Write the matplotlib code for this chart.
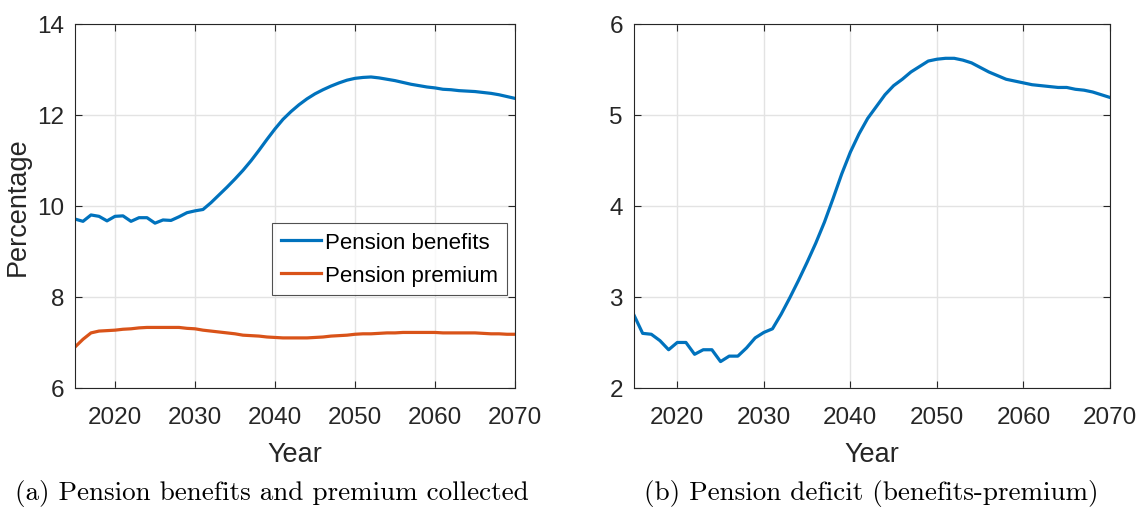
import matplotlib
matplotlib.use('Agg')
import matplotlib.pyplot as plt

# Years 2015..2070 (annual)
years = list(range(2015, 2071))

# Pension benefits, %
benefits = [9.71, 9.66, 9.80, 9.77, 9.67, 9.77, 9.78, 9.66, 9.74, 9.74,
            9.62, 9.69, 9.68, 9.76, 9.85, 9.89, 9.92, 10.07, 10.24, 10.41,
            10.59, 10.78, 10.99, 11.22, 11.46, 11.69, 11.90, 12.07, 12.22, 12.35,
            12.46, 12.55, 12.63, 12.70, 12.76, 12.80, 12.82, 12.83, 12.81, 12.78,
            12.75, 12.71, 12.67, 12.64, 12.61, 12.59, 12.56, 12.55, 12.53, 12.52,
            12.51, 12.49, 12.47, 12.44, 12.40, 12.36]

# Pension premium, %
premium = [6.90, 7.07, 7.21, 7.25, 7.26, 7.27, 7.29, 7.30, 7.32, 7.33,
           7.33, 7.33, 7.33, 7.33, 7.31, 7.30, 7.27, 7.25, 7.23, 7.21,
           7.19, 7.16, 7.15, 7.14, 7.12, 7.11, 7.10, 7.10, 7.10, 7.10,
           7.11, 7.12, 7.14, 7.15, 7.16, 7.18, 7.19, 7.19, 7.20, 7.21,
           7.21, 7.22, 7.22, 7.22, 7.22, 7.22, 7.21, 7.21, 7.21, 7.21,
           7.21, 7.20, 7.19, 7.19, 7.18, 7.18]

# Pension deficit, %
deficit = [2.80, 2.60, 2.59, 2.52, 2.42, 2.50, 2.50, 2.37, 2.42, 2.42,
           2.29, 2.35, 2.35, 2.44, 2.55, 2.61, 2.65, 2.81, 2.99, 3.18,
           3.38, 3.59, 3.82, 4.08, 4.35, 4.59, 4.79, 4.96, 5.09, 5.22,
           5.32, 5.39, 5.47, 5.53, 5.59, 5.61, 5.62, 5.62, 5.60, 5.57,
           5.52, 5.47, 5.43, 5.39, 5.37, 5.35, 5.33, 5.32, 5.31, 5.30,
           5.30, 5.28, 5.27, 5.25, 5.22, 5.19]

x_ticks = [2020, 2030, 2040, 2050, 2060, 2070]
left_yticks = [6, 8, 10, 12, 14]
right_yticks = [2, 3, 4, 5, 6]

blue = '#0072BD'
orange = '#D95319'

plt.rcParams['font.family'] = ['Liberation Sans', 'DejaVu Sans']

fig = plt.figure(figsize=(11.42, 5.10), dpi=100)
ax1 = fig.add_axes([75 / 1142, 121 / 510, 440 / 1142, 364.3 / 510])
ax2 = fig.add_axes([634 / 1142, 121 / 510, 476 / 1142, 364.3 / 510])


def style(ax, yticks):
    ax.set_xlim(2015, 2070)
    ax.set_ylim(yticks[0], yticks[-1])
    ax.set_xticks(x_ticks)
    ax.set_yticks(yticks)
    ax.grid(True, color='#e3e3e3', linewidth=1.0)
    ax.set_axisbelow(True)
    ax.tick_params(direction='in', top=True, right=True, length=5,
                   width=0.8, color='#262626', labelsize=17.5,
                   labelcolor='#262626', pad=8)
    ax.tick_params(axis='x', pad=13)
    for s in ax.spines.values():
        s.set_color('#262626')
        s.set_linewidth(0.8)
    ax.set_xlabel('Year', fontsize=19.5, color='#262626', labelpad=9)


ax1.plot(years, benefits, color=blue, lw=2.3, label='Pension benefits')
ax1.plot(years, premium, color=orange, lw=2.3, label='Pension premium')
style(ax1, left_yticks)
ax1.set_ylabel('Percentage', fontsize=19.5, color='#262626', labelpad=4)
leg = ax1.legend(loc='lower right', bbox_to_anchor=(432 / 440, 93 / 364.3),
                 fontsize=16, frameon=True, fancybox=False, handlelength=1.8,
                 borderpad=0.4, labelspacing=0.55, handletextpad=0.2,
                 borderaxespad=0)
leg.get_frame().set_edgecolor('#262626')
leg.get_frame().set_linewidth(0.8)

ax2.plot(years, deficit, color=blue, lw=2.3)
style(ax2, right_yticks)

fig.text(272 / 1142, 1 - 494 / 510, '(a) Pension benefits and premium collected',
         family='cmr10', fontsize=19.5, ha='center', va='center')
fig.text(871 / 1142, 1 - 494 / 510, '(b) Pension deficit (benefits-premium)',
         family='cmr10', fontsize=19.5, ha='center', va='center')

fig.savefig('out.png', dpi=100)
